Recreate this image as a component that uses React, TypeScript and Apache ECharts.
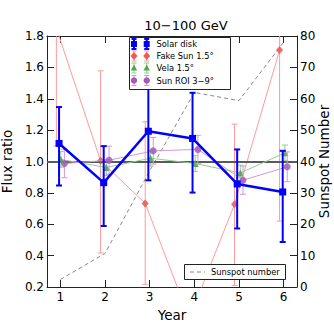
import React, { useEffect, useRef } from "react";
import * as echarts from "echarts";

// ---- data ----
const years = [1, 2, 3, 4, 5, 6];

const solarX = [0.97, 1.97, 2.97, 3.96, 4.96, 5.98];
const solar = [1.115, 0.865, 1.193, 1.147, 0.857, 0.806];
const solarLo = [0.847, 0.589, 0.88, 0.802, 0.573, 0.487];
const solarHi = [1.347, 1.098, 1.5, 1.438, 1.077, 1.068];

const fakeX = [0.91, 1.9, 2.9, 3.89, 4.9, 5.91];
const fake = [1.85, 1.004, 0.733, 0.0, 0.727, 1.71];
const fakeLo = [1.1, 0.417, 0.217, -0.15, 0.21, 0.62];
const fakeHi = [2.6, 1.578, 1.253, 0.15, 1.238, 2.8];

const velaX = [1.01, 2.03, 3.02, 4.02, 5.03, 6.03];
const vela = [1.013, 0.962, 1.021, 0.987, 0.927, 1.055];
const velaLo = [0.963, 0.912, 0.971, 0.937, 0.877, 1.005];
const velaHi = [1.063, 1.012, 1.071, 1.037, 0.977, 1.105];

const roiX = [1.09, 2.09, 3.08, 4.08, 5.09, 6.08];
const roi = [0.987, 1.008, 1.068, 1.077, 0.881, 0.966];
const roiLo = [0.897, 0.918, 0.983, 0.987, 0.791, 0.871];
const roiHi = [1.077, 1.098, 1.153, 1.167, 0.971, 1.061];

const sunspot = [2.4, 10.7, 37, 62, 59.4, 78];

const unityLevel = 1.0;
const xMin = 0.7;
const xMax = 6.3;
const yTicksLeft = [0.2, 0.4, 0.6, 0.8, 1.0, 1.2, 1.4, 1.6, 1.8];

const FONT = "DejaVu Sans";

function errSeries(name: string, xs: number[], lo: number[], hi: number[], color: string, width: number, cap: number, z: number) {
  return {
    type: "custom",
    name,
    z,
    silent: true,
    data: xs.map((x, i) => [x, lo[i], hi[i]]),
    encode: { x: 0, y: [1, 2] },
    renderItem: (params: any, api: any) => {
      const cs = params.coordSys;
      const x = api.value(0);
      const a = api.coord([x, api.value(1)]);
      const b = api.coord([x, api.value(2)]);
      const top = cs.y, bot = cs.y + cs.height;
      const y1 = Math.min(bot, Math.max(top, a[1]));
      const y2 = Math.min(bot, Math.max(top, b[1]));
      const children: any[] = [];
      if (Math.abs(y1 - y2) > 0.01) {
        children.push({ type: "line", shape: { x1: a[0], y1, x2: a[0], y2 }, style: { stroke: color, lineWidth: width } });
      }
      if (a[1] <= bot && a[1] >= top) children.push({ type: "line", shape: { x1: a[0] - cap, y1: a[1], x2: a[0] + cap, y2: a[1] }, style: { stroke: color, lineWidth: width } });
      if (b[1] <= bot && b[1] >= top) children.push({ type: "line", shape: { x1: b[0] - cap, y1: b[1], x2: b[0] + cap, y2: b[1] }, style: { stroke: color, lineWidth: width } });
      return { type: "group", children };
    },
  };
}

export default function App() {
  const ref = useRef<HTMLDivElement>(null);
  useEffect(() => {
    if (!ref.current) return;
    const chart = echarts.init(ref.current, null, { renderer: "svg" });

    const blue = "#0000ff";
    const redM = "#ee5a5a";
    const redL = "#ff9a9a";
    const greenM = "#4fa64f";
    const greenL = "#8fd08f";
    const purpM = "#a45bb4";
    const purpL = "#cf9ad8";

    const Z = 100;
    const ZL = 1;
    // legend graphics
    const lx = [134, 146.7];
    const ly = [44, 56, 68, 80.5];
    const legendChildren: any[] = [
      { type: "rect", zlevel: ZL, z: Z, shape: { x: 129.5, y: 37.5, width: 101, height: 52 }, style: { fill: "#fff", stroke: "#222", lineWidth: 1 } },
    ];
    const mk = (i: number, color: string, kind: string, errColor: string) => {
      lx.forEach((x) => {
        const y = ly[i];
        const w = kind === "sq" ? 2 : 1;
        legendChildren.push({ type: "line", zlevel: ZL, z: Z + 1, shape: { x1: x, y1: y - 5, x2: x, y2: y + 5 }, style: { stroke: errColor, lineWidth: w } });
        legendChildren.push({ type: "line", zlevel: ZL, z: Z + 1, shape: { x1: x - 2.5, y1: y - 5, x2: x + 2.5, y2: y - 5 }, style: { stroke: errColor, lineWidth: w } });
        legendChildren.push({ type: "line", zlevel: ZL, z: Z + 1, shape: { x1: x - 2.5, y1: y + 5, x2: x + 2.5, y2: y + 5 }, style: { stroke: errColor, lineWidth: w } });
        if (kind === "sq") legendChildren.push({ type: "rect", zlevel: ZL, z: Z + 2, shape: { x: x - 3, y: y - 3, width: 6, height: 6 }, style: { fill: color } });
        if (kind === "di") legendChildren.push({ type: "polygon", zlevel: ZL, z: Z + 2, shape: { points: [[x, y - 4], [x + 3.5, y], [x, y + 4], [x - 3.5, y]] }, style: { fill: color } });
        if (kind === "tr") legendChildren.push({ type: "polygon", zlevel: ZL, z: Z + 2, shape: { points: [[x, y - 3.5], [x + 3.2, y + 2.5], [x - 3.2, y + 2.5]] }, style: { fill: color } });
        if (kind === "ci") legendChildren.push({ type: "circle", zlevel: ZL, z: Z + 2, shape: { cx: x, cy: y, r: 3.2 }, style: { fill: color } });
      });
    };
    mk(0, blue, "sq", blue);
    mk(1, redM, "di", redL);
    mk(2, greenM, "tr", greenL);
    mk(3, purpM, "ci", purpL);
    const names = ["Solar disk", "Fake Sun 1.5°", "Vela 1.5°", "Sun ROI 3−9°"];
    names.forEach((t, i) => {
      legendChildren.push({ type: "text", zlevel: ZL, z: Z + 2, x: 156.5, y: ly[i], style: { text: t, font: `8.3px '${FONT}'`, fill: "#000", textVerticalAlign: "middle" } });
    });
    // sunspot legend
    legendChildren.push({ type: "rect", zlevel: ZL, z: Z, shape: { x: 184.5, y: 264.5, width: 101, height: 15 }, style: { fill: "#fff", stroke: "#222", lineWidth: 1 } });
    legendChildren.push({ type: "line", zlevel: ZL, z: Z + 1, shape: { x1: 190, y1: 272, x2: 205, y2: 272 }, style: { stroke: "#888", lineWidth: 1, lineDash: [4, 3] } });
    legendChildren.push({ type: "text", zlevel: ZL, z: Z + 1, x: 211, y: 272, style: { text: "Sunspot number", font: `8.3px '${FONT}'`, fill: "#000", textVerticalAlign: "middle" } });

    const tickStyle = { color: "#222", width: 1 };

    chart.setOption({
      animation: false,
      backgroundColor: "#fff",
      textStyle: { fontFamily: FONT },
      grid: { left: 47, right: 37, top: 36, bottom: 47, outerBoundsMode: "none" },
      graphic: [
        { type: "text", x: 186, y: 25, style: { text: "10−100 GeV", font: `13px '${FONT}'`, fill: "#000", textAlign: "center", textVerticalAlign: "middle" } },
        { type: "text", x: 324, y: 161.5, rotation: Math.PI / 2, style: { text: "Sunspot Number", font: `13.5px '${FONT}'`, fill: "#000", textAlign: "center", textVerticalAlign: "middle" } },
        { type: "group", zlevel: ZL, z: Z, children: legendChildren },
      ],
      xAxis: [
        {
          type: "value", min: () => xMin, max: () => xMax, boundaryGap: [0, 0], position: "bottom",
          name: "Year", nameLocation: "middle", nameGap: 18,
          nameTextStyle: { fontSize: 13.5, color: "#000", fontFamily: FONT },
          axisLine: { show: true, onZero: false, lineStyle: { color: "#222", width: 1 } },
          axisTick: { show: true, inside: true, length: 7, customValues: years, lineStyle: tickStyle },
          axisLabel: { show: true, customValues: years, fontSize: 12, color: "#000", margin: 4, fontFamily: FONT },
          splitLine: { show: false },
        },
        {
          type: "value", min: () => xMin, max: () => xMax, boundaryGap: [0, 0], position: "top",
          axisLine: { show: true, onZero: false, lineStyle: { color: "#222", width: 1 } },
          axisTick: { show: true, inside: true, length: 7, customValues: years, lineStyle: tickStyle },
          axisLabel: { show: false },
          splitLine: { show: false },
        },
      ],
      yAxis: [
        {
          type: "value", min: 0.2, max: 1.8, interval: 0.2, position: "left",
          name: "Flux ratio", nameLocation: "middle", nameGap: 25,
          nameTextStyle: { fontSize: 13.5, color: "#000", fontFamily: FONT },
          axisLine: { show: true, onZero: false, lineStyle: { color: "#222", width: 1 } },
          axisTick: { show: true, inside: true, length: 7, customValues: yTicksLeft, lineStyle: tickStyle },
          axisLabel: { show: true, customValues: yTicksLeft, formatter: (v: number) => v.toFixed(1), fontSize: 12, color: "#000", margin: 3, fontFamily: FONT },
          splitLine: { show: false },
        },
        {
          type: "value", min: 0, max: 80, interval: 10, position: "right",
          axisLine: { show: true, onZero: false, lineStyle: { color: "#222", width: 1 } },
          axisTick: { show: true, inside: true, length: 7, lineStyle: tickStyle },
          axisLabel: { show: true, fontSize: 12, color: "#000", margin: 3, fontFamily: FONT },
          splitLine: { show: false },
        },
      ],
      series: [
        {
          type: "line", name: "Sunspot number", yAxisIndex: 1, z: 3,
          data: years.map((x, i) => [x, sunspot[i]]),
          symbol: "none", lineStyle: { color: "#8a8a8a", width: 1, type: [4, 3] },
        },
        errSeries("fakeErr", fakeX, fakeLo, fakeHi, redL, 1, 3, 2),
        {
          type: "line", name: "Fake Sun 1.5°", z: 4, clip: true,
          data: fakeX.map((x, i) => [x, fake[i]]),
          symbol: "diamond", symbolSize: [7, 8], itemStyle: { color: redM, opacity: 0.9 },
          lineStyle: { color: redL, width: 1 },
        },
        errSeries("velaErr", velaX, velaLo, velaHi, greenL, 1, 3, 6),
        {
          type: "line", name: "Vela 1.5°", z: 7, clip: true,
          data: velaX.map((x, i) => [x, vela[i]]),
          symbol: "triangle", symbolSize: 7, itemStyle: { color: greenM, opacity: 0.9 },
          lineStyle: { color: greenL, width: 1 },
          markLine: {
            silent: true, symbol: "none", label: { show: false }, z: 7,
            lineStyle: { color: "#5a5a5a", width: 2, type: "solid", opacity: 1 },
            emphasis: { disabled: true },
            data: [{ yAxis: unityLevel }],
          },
        },
        errSeries("roiErr", roiX, roiLo, roiHi, purpL, 1, 3, 8),
        {
          type: "line", name: "Sun ROI 3−9°", z: 9, clip: true,
          data: roiX.map((x, i) => [x, roi[i]]),
          symbol: "circle", symbolSize: 7, itemStyle: { color: purpM, opacity: 0.85 },
          lineStyle: { color: purpL, width: 1 },
        },
        errSeries("solarErr", solarX, solarLo, solarHi, blue, 2, 3, 10),
        {
          type: "line", name: "Solar disk", z: 11, clip: true,
          data: solarX.map((x, i) => [x, solar[i]]),
          symbol: "rect", symbolSize: 7, itemStyle: { color: blue },
          lineStyle: { color: blue, width: 2.5 },
        },
      ],
    });
    return () => chart.dispose();
  }, []);
  return <div ref={ref} style={{ position: "fixed", left: 0, top: 0, width: 334, height: 334 }} />;
}
